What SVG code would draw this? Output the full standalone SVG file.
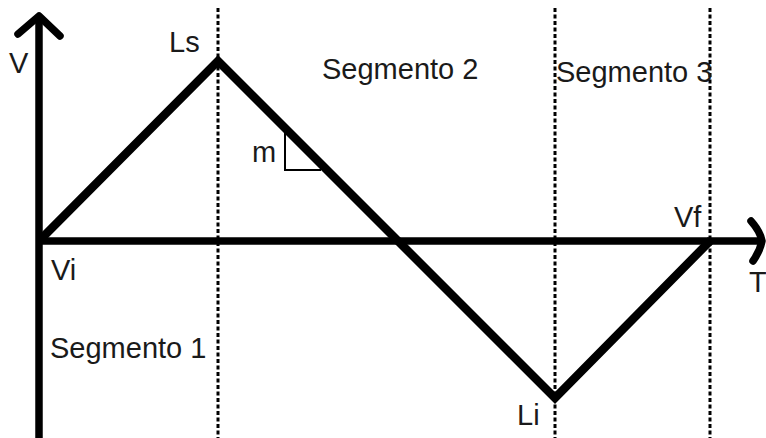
<svg xmlns="http://www.w3.org/2000/svg" width="766" height="438" viewBox="0 0 766 438">
<style>
.axis{stroke:#000;stroke-width:7.5;fill:none;stroke-linecap:butt}
.head{stroke:#000;stroke-width:7.5;fill:none;stroke-linecap:round;stroke-linejoin:round}
.graph{stroke:#000;stroke-width:8.5;fill:none;stroke-linejoin:miter}
.dot{stroke:#000;stroke-width:3;stroke-dasharray:4 2.5;fill:none}
.thin{stroke:#000;stroke-width:2;fill:none}
text{font-family:"Liberation Sans",Arial,Helvetica,sans-serif;font-size:29px;fill:#1a1a1a}
</style>
<rect width="766" height="438" fill="#fff"/>
<g id="guides">
<line class="dot" x1="218" y1="8" x2="218" y2="438"/>
<line class="dot" x1="555" y1="8" x2="555" y2="438"/>
<line class="dot" x1="710" y1="8" x2="710" y2="438"/>
</g>
<g id="axes">
<line class="axis" x1="39" y1="18" x2="39" y2="438"/>
<path class="head" d="M18,34 L39,16 L60,36"/>
<line class="axis" x1="36" y1="241" x2="760" y2="241"/>
<path class="head" d="M751,221 Q760,231 762,241 Q760,251 753,261"/>
</g>
<g id="curve">
<polyline class="graph" points="40,240 218,61 398,241 555,398 711,240"/>
<polyline class="thin" points="285,133 285,170 321,170"/>
</g>
<g id="labels">
<text x="9" y="73">V</text>
<text x="169" y="52">Ls</text>
<text x="322" y="79">Segmento 2</text>
<text x="556" y="82">Segmento 3</text>
<text x="252" y="162">m</text>
<text x="51" y="280">Vi</text>
<text x="50" y="358">Segmento 1</text>
<text x="674" y="227">Vf</text>
<text x="749" y="292">T</text>
<text x="517" y="425">Li</text>
</g>
</svg>
